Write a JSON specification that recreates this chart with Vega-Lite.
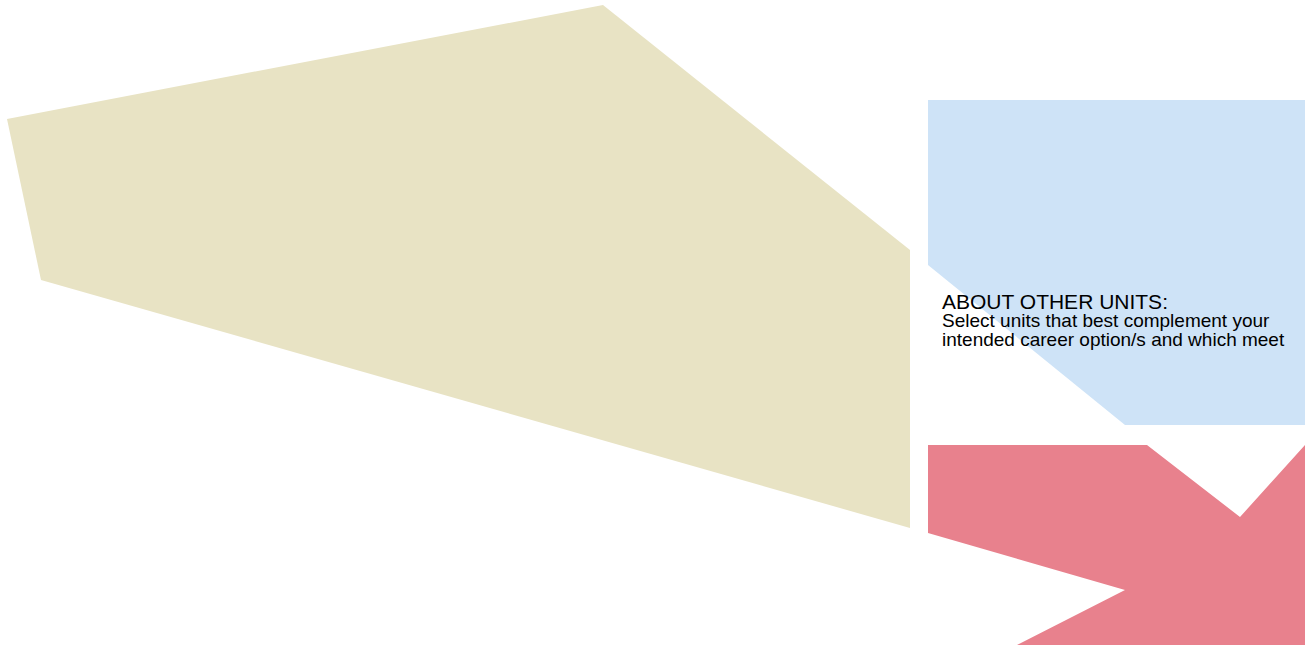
{
  "$schema": "https://vega.github.io/schema/vega-lite/v6.json",
  "width": 1307,
  "height": 648,
  "autosize": {"type": "fit", "contains": "padding"},
  "padding": 0,
  "background": "#ffffff",
  "config": {"view": {"stroke": null}},
  "layer": [
    {
      "data": {
        "values": [
          {"shape": "beige", "i": 1, "x": 7, "y": 119},
          {"shape": "beige", "i": 2, "x": 603, "y": 5},
          {"shape": "beige", "i": 3, "x": 910, "y": 250},
          {"shape": "beige", "i": 4, "x": 910, "y": 528},
          {"shape": "beige", "i": 5, "x": 41, "y": 280},
          {"shape": "blue", "i": 1, "x": 928, "y": 100},
          {"shape": "blue", "i": 2, "x": 1305, "y": 100},
          {"shape": "blue", "i": 3, "x": 1305, "y": 425},
          {"shape": "blue", "i": 4, "x": 1125, "y": 425},
          {"shape": "blue", "i": 5, "x": 928, "y": 265},
          {"shape": "red", "i": 1, "x": 928, "y": 445},
          {"shape": "red", "i": 2, "x": 1147, "y": 445},
          {"shape": "red", "i": 3, "x": 1240, "y": 517},
          {"shape": "red", "i": 4, "x": 1305, "y": 445},
          {"shape": "red", "i": 5, "x": 1305, "y": 645},
          {"shape": "red", "i": 6, "x": 1017, "y": 645},
          {"shape": "red", "i": 7, "x": 1125, "y": 590},
          {"shape": "red", "i": 8, "x": 928, "y": 533}
        ]
      },
      "mark": {"type": "line", "filled": true, "strokeWidth": 0, "opacity": 1, "fillOpacity": 1},
      "encoding": {
        "x": {"field": "x", "type": "quantitative", "scale": {"domain": [0, 1307], "nice": false, "zero": false}, "axis": null},
        "y": {"field": "y", "type": "quantitative", "scale": {"domain": [0, 648], "nice": false, "zero": false, "reverse": true}, "axis": null},
        "order": {"field": "i", "type": "quantitative"},
        "detail": {"field": "shape"},
        "color": {"field": "shape", "type": "nominal", "scale": {"domain": ["beige", "blue", "red"], "range": ["#e8e3c4", "#cee3f7", "#e8818d"]}, "legend": null}
      }
    },
    {
      "data": {"values": [{"text": "ABOUT OTHER UNITS:", "x": 942, "y": 309}]},
      "mark": {"type": "text", "align": "left", "baseline": "alphabetic", "font": "Liberation Sans", "fontSize": 21, "color": "#000000"},
      "encoding": {
        "x": {"field": "x", "type": "quantitative", "scale": {"domain": [0, 1307], "nice": false, "zero": false}, "axis": null},
        "y": {"field": "y", "type": "quantitative", "scale": {"domain": [0, 648], "nice": false, "zero": false, "reverse": true}, "axis": null},
        "text": {"field": "text"}
      }
    },
    {
      "data": {"values": [
        {"text": "Select units that best complement your", "x": 942, "y": 327},
        {"text": "intended career option/s and which meet", "x": 942, "y": 346}
      ]},
      "mark": {"type": "text", "align": "left", "baseline": "alphabetic", "font": "Liberation Sans", "fontSize": 19, "color": "#000000"},
      "encoding": {
        "x": {"field": "x", "type": "quantitative", "scale": {"domain": [0, 1307], "nice": false, "zero": false}, "axis": null},
        "y": {"field": "y", "type": "quantitative", "scale": {"domain": [0, 648], "nice": false, "zero": false, "reverse": true}, "axis": null},
        "text": {"field": "text"}
      }
    }
  ]
}
